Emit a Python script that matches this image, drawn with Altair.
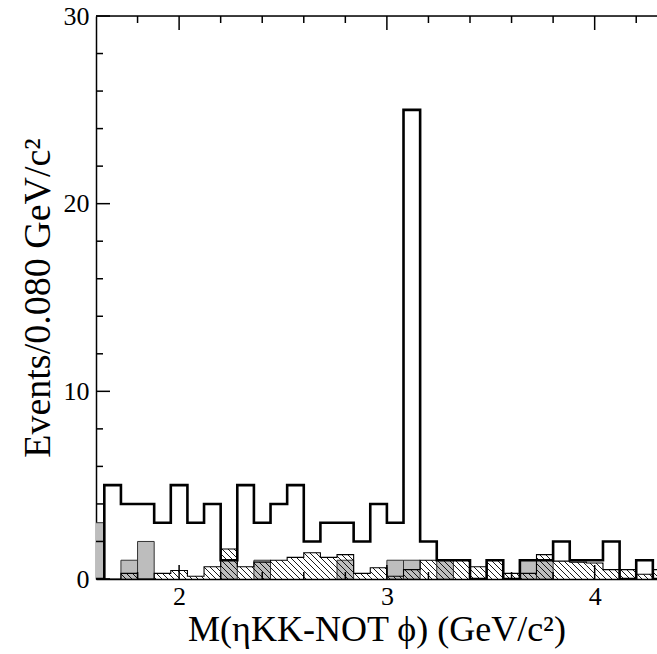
import altair as alt
import pandas as pd
import numpy as np

# ---------------- data ----------------
bin_width = 0.08
bin_lo = [round(1.56 + bin_width * i, 2) for i in range(35)]

data_counts = [0, 5, 4, 4, 3, 5, 3, 4, 1, 5, 3, 4, 5, 2, 3, 3, 2, 4, 3, 25,
               2, 1, 1, 0, 1, 0, 1, 1, 2, 1, 1, 2, 0, 1, 0]
sideband = [3, 0, 1, 2, 0, 0, 0, 0, 1, 0, 1, 0, 0, 0, 0, 1, 0, 0, 1, 1,
            0, 1, 0, 0, 0, 0, 1, 1, 0, 0, 0, 0, 0, 0, 0]
hatched_mc = [0, 0, 0.3, 0, 0.3, 0.45, 0.15, 0.65, 1.6, 0.65, 0.9, 1.0, 1.15, 1.4,
              1.15, 1.3, 0.3, 0.6, 0.15, 0.5, 1.0, 1.0, 1.0, 0.65, 1.0, 0.3, 0.3,
              1.3, 0.95, 0.9, 0.85, 0.5, 0.5, 0.25, 0.5]

x_domain = [1.6, 4.3]
y_domain = [0, 30]
y_major = [0, 10, 20, 30]
y_minor = [2, 4, 6, 8, 12, 14, 16, 18, 22, 24, 26, 28]
x_major = [2, 3, 4]
x_minor = [1.8, 2.2, 2.4, 2.6, 2.8, 3.2, 3.4, 3.6, 3.8, 4.2]

x_title = "M(ηKK-NOT ϕ) (GeV/c²)"
y_title = "Events/0.080 GeV/c²"

# ---------------- layout ----------------
W, H = 561, 563
FONT = "Liberation Serif"
MAJ, MIN = 14, 7

xs = alt.Scale(domain=x_domain, nice=False, zero=False)
ys = alt.Scale(domain=y_domain, nice=False, zero=False)

edges = [round(v, 2) for v in bin_lo] + [round(bin_lo[-1] + bin_width, 2)]
bins = pd.DataFrame({"lo": bin_lo,
                     "hi": [round(v + bin_width, 2) for v in bin_lo],
                     "data": data_counts, "side": sideband, "mc": hatched_mc})

step_df = pd.DataFrame({"x": edges, "y": data_counts + [data_counts[-1]]})
mc_df = pd.DataFrame({"x": edges, "y": hatched_mc + [hatched_mc[-1]]})

# hatch segments ("\" direction) clipped to each hatched bin
sx = W / (x_domain[1] - x_domain[0])
sy = H / (y_domain[1] - y_domain[0])
spacing = 6.0
segs = []
for lo, h in zip(bin_lo, hatched_mc):
    if h <= 0:
        continue
    X0 = max((lo - x_domain[0]) * sx, 0.0)
    X1 = min((lo + bin_width - x_domain[0]) * sx, W)
    if X1 <= X0:
        continue
    Hp = h * sy
    k0 = int(np.floor(X0 / spacing))
    k1 = int(np.ceil((X1 + Hp) / spacing))
    for k in range(k0, k1 + 1):
        c = k * spacing
        a = max(X0, c - Hp)
        b = min(X1, c)
        if b - a > 0.3:
            segs.append({"x": x_domain[0] + a / sx, "y": (c - a) / sy,
                         "x2": x_domain[0] + b / sx, "y2": (c - b) / sy})
hatch_df = pd.DataFrame(segs)

base_x = alt.X("lo:Q", scale=xs, axis=alt.Axis(
    values=x_major, format="d", ticks=False, grid=False, domain=True,
    domainColor="black", domainWidth=1.5, labelFont=FONT, labelFontSize=26,
    labelColor="black", labelPadding=4, labelFlush=False, title=x_title,
    titleFont=FONT, titleFontSize=36, titleFontWeight="normal",
    titleColor="black", titlePadding=3))
base_y = alt.Y("side:Q", scale=ys, axis=alt.Axis(
    values=y_major, format="d", ticks=False, grid=False, domain=True,
    domainColor="black", domainWidth=1.5, labelFont=FONT, labelFontSize=26,
    labelColor="black", labelPadding=7, labelFlush=False, title=y_title,
    titleFont=FONT, titleFontSize=38, titleFontWeight="normal",
    titleColor="black", titlePadding=6))

gray = alt.Chart(bins).transform_filter("datum.side > 0").mark_rect(
    fill="#bdbdbd", stroke="#333333", strokeWidth=1, clip=True
).encode(x=base_x, x2="hi:Q", y=base_y, y2=alt.datum(0))

hatch = alt.Chart(hatch_df).mark_rule(color="black", strokeWidth=0.9, clip=True).encode(
    x=alt.X("x:Q", scale=xs), x2="x2:Q", y=alt.Y("y:Q", scale=ys), y2="y2:Q")

mc_line = alt.Chart(mc_df).mark_line(
    interpolate="step-after", color="black", strokeWidth=1.1, clip=True
).encode(x=alt.X("x:Q", scale=xs), y=alt.Y("y:Q", scale=ys))

data_line = alt.Chart(step_df).mark_line(
    interpolate="step-after", color="black", strokeWidth=2.6, clip=True,
    strokeJoin="miter"
).encode(x=alt.X("x:Q", scale=xs), y=alt.Y("y:Q", scale=ys))

# frame top line and inward ticks
top_df = pd.DataFrame({"x": [x_domain[0]], "x2": [x_domain[1]], "y": [y_domain[1]]})
top_line = alt.Chart(top_df).mark_rule(color="black", strokeWidth=1.5).encode(
    x=alt.X("x:Q", scale=xs), x2="x2:Q", y=alt.Y("y:Q", scale=ys))

def yticks(vals, L):
    return alt.Chart(pd.DataFrame({"v": vals})).mark_rule(color="black", strokeWidth=1.5).encode(
        y=alt.Y("v:Q", scale=ys), x=alt.value(0), x2=alt.value(L))

def xticks(vals, L, top):
    y0, y1 = (0, L) if top else (H, H - L)
    return alt.Chart(pd.DataFrame({"v": vals})).mark_rule(color="black", strokeWidth=1.5).encode(
        x=alt.X("v:Q", scale=xs), y=alt.value(y0), y2=alt.value(y1))

chart = alt.layer(
    gray, hatch, mc_line, data_line, top_line,
    yticks(y_major, MAJ), yticks(y_minor, MIN),
    xticks(x_major, MAJ, False), xticks(x_minor, MIN, False),
    xticks(x_major, MAJ, True), xticks(x_minor, MIN, True),
).properties(
    width=W, height=H,
    autosize=alt.AutoSizeParams(type="none"),
    padding={"left": 96, "top": 16, "right": 0, "bottom": 75},
).configure_view(stroke=None).configure(background="white")

chart.save("out.html", embed_options={"renderer": "svg", "actions": False})
